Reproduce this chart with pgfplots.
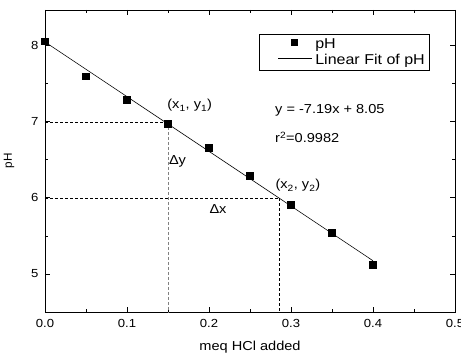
\documentclass[border=0pt]{standalone}
\usepackage{pgfplots}
\pgfplotsset{compat=1.18}
\usepackage{fontspec}
\setmainfont{Liberation Sans}[Scale=1.3, FakeStretch=1.12]
\newfontfamily\plainsans{Liberation Sans}[Scale=1.17]
\begin{document}
\begin{tikzpicture}
\begin{axis}[
  scale only axis, width=410pt, height=302pt,
  xmin=0, xmax=0.5, ymin=4.5, ymax=8.47,
  xtick={0,0.1,0.2,0.3,0.4,0.5},
  ytick={5,6,7,8},
  minor x tick num=1, minor y tick num=1,
  tick align=inside,
  major tick length=5pt, minor tick length=3pt,
  every tick/.style={black, line width=0.8pt},
  axis line style={line width=0.9pt},
  xticklabel style={yshift=-3pt, /pgf/number format/.cd, fixed, fixed zerofill, precision=1},
  yticklabel style={xshift=-2pt},
  /pgf/number format/assume math mode=true,
  tick label style={font=\small},
  xlabel={meq HCl added}, ylabel={pH},
  xlabel style={yshift=-4pt},
  ylabel style={font=\plainsans, yshift=8pt},
  legend style={at={(rel axis cs:0.522,0.9205)}, anchor=north west,
    draw=black, line width=0.6pt, font=\fontsize{11}{13}\selectfont,
    inner xsep=2pt, inner ysep=2pt, row sep=0pt,
    nodes={inner sep=2pt}},
  legend cell align=left,
  clip=false,
]
\addplot[black, densely dashed, line width=0.6pt, forget plot] coordinates {(0,7) (0.15,7)};
\addplot[gray, densely dashed, line width=0.8pt, forget plot] coordinates {(0.15,7) (0.15,4.5)};
\addplot[black, densely dashed, line width=0.6pt, forget plot] coordinates {(0,6) (0.286,6)};
\addplot[black, densely dashed, line width=0.6pt, forget plot] coordinates {(0.286,6) (0.286,4.5)};
\addplot[only marks, mark=square*, mark size=3.4pt, black,
  legend image code/.code={\path[draw=none,fill=none] (0pt,0pt) -- (52pt,0pt); \fill[black] (30pt,-1pt) rectangle (36pt,5pt);}]
  coordinates {(0,8.06) (0.05,7.60) (0.1,7.29) (0.15,6.98) (0.2,6.66) (0.25,6.29) (0.3,5.91) (0.35,5.54) (0.4,5.12)};
\addlegendentry{pH}
\addplot[black, line width=0.6pt, no marks,
  legend image code/.code={\path[draw=none,fill=none] (0pt,0pt) -- (52pt,0pt); \draw[black, line width=0.6pt] (17pt,2pt) -- (51pt,2pt);}]
  coordinates {(0,8.05) (0.4,5.174)};
\addlegendentry{Linear Fit of pH}
\node[anchor=west, inner sep=0pt] at (axis cs:0.149,7.22) {(x\textsubscript{1}, y\textsubscript{1})};
\node[anchor=west, inner sep=0pt] at (axis cs:0.151,6.48) {Δy};
\node[anchor=center, inner sep=0pt] at (axis cs:0.211,5.85) {Δx};
\node[anchor=west, inner sep=0pt] at (axis cs:0.281,6.16) {(x\textsubscript{2}, y\textsubscript{2})};
\node[anchor=west, inner sep=0pt] at (rel axis cs:0.561,0.669) {y = -7.19x + 8.05};
\node[anchor=west, inner sep=0pt] at (rel axis cs:0.561,0.579) {r\textsuperscript{2}=0.9982};
\end{axis}
\pgfresetboundingbox
\path (-45pt,-43pt) rectangle (416pt,312pt);
\end{tikzpicture}
\end{document}
